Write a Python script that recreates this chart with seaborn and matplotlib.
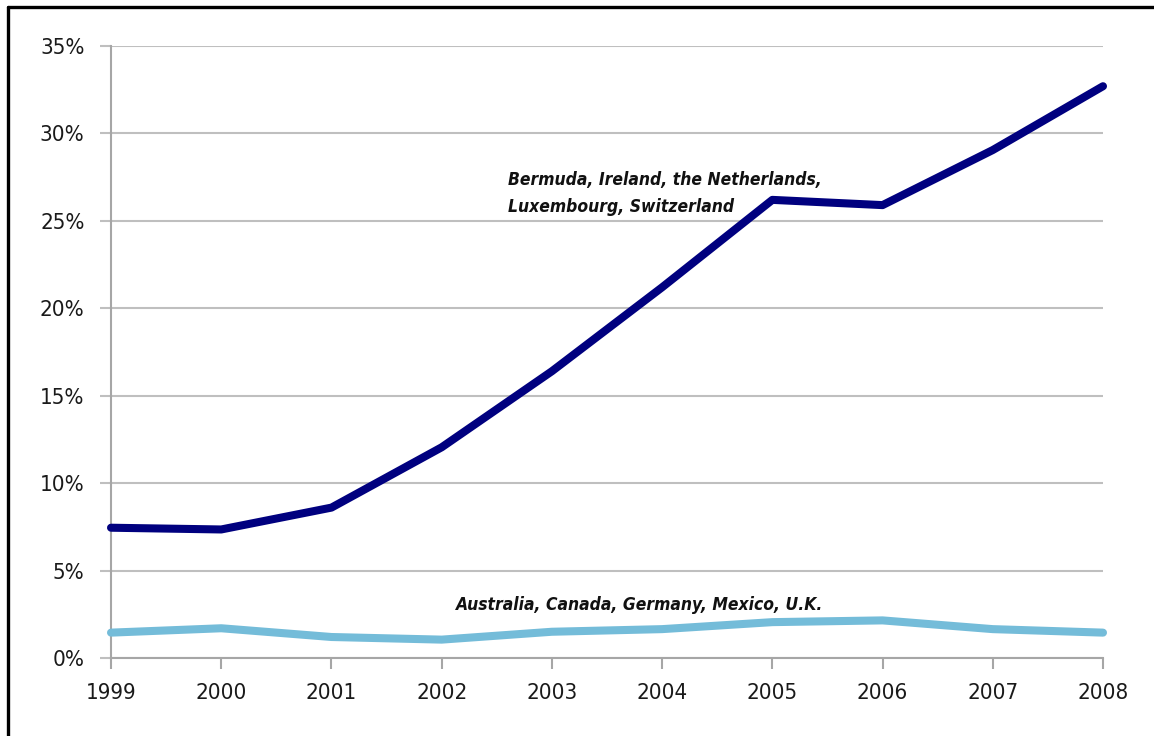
import numpy as np
import pandas as pd
import matplotlib
matplotlib.use("Agg")
import matplotlib.pyplot as plt
import seaborn as sns
from matplotlib.lines import Line2D
from matplotlib.ticker import FuncFormatter

years = [1999, 2000, 2001, 2002, 2003, 2004, 2005, 2006, 2007, 2008]
tax_havens = [7.45, 7.35, 8.6, 12.05, 16.4, 21.2, 26.2, 25.9, 29.05, 32.7]
big_five = [1.45, 1.7, 1.2, 1.05, 1.5, 1.65, 2.05, 2.15, 1.65, 1.45]
label_havens_1 = "Bermuda, Ireland, the Netherlands,"
label_havens_2 = "Luxembourg, Switzerland"
label_big = "Australia, Canada, Germany, Mexico, U.K."

df = pd.DataFrame({
    "year": years * 2,
    "share": tax_havens + big_five,
    "group": ["havens"] * len(years) + ["big"] * len(years),
})

sns.set_style("white")
plt.rcParams["font.family"] = ["DejaVu Sans"]
plt.rcParams["font.stretch"] = "condensed"

fig = plt.figure(figsize=(11.54, 7.36), dpi=100)
ax = fig.add_axes([0.0962, 0.106, 0.8596, 0.8315])

sns.lineplot(data=df, x="year", y="share", hue="group",
             palette={"havens": "#00007f", "big": "#74bcd9"},
             linewidth=5.8, legend=False, ax=ax)
for ln in ax.lines:
    ln.set_solid_capstyle("round")
    ln.set_solid_joinstyle("round")
    ln.set_clip_on(False)
    ln.set_zorder(3)

ax.set_xlim(1999, 2008)
ax.set_ylim(0, 35)
ax.set_xticks(years)
ax.set_yticks(range(0, 36, 5))
ax.yaxis.set_major_formatter(FuncFormatter(lambda v, p: f"{int(v)}%"))
ax.set_xlabel("")
ax.set_ylabel("")

ax.grid(axis="y", color="#bfbfbf", linewidth=1.5)
ax.grid(axis="x", visible=False)
for s in ["top", "right"]:
    ax.spines[s].set_visible(False)
for s in ["left", "bottom"]:
    ax.spines[s].set_color("#a6a6a6")
    ax.spines[s].set_linewidth(1.5)
ax.tick_params(axis="x", direction="out", length=8, width=1.5, color="#a6a6a6",
               labelsize=16, labelcolor="#1a1a1a", pad=10, bottom=True)
ax.tick_params(axis="y", direction="out", length=8, width=1.5, color="#bfbfbf",
               labelsize=16, labelcolor="#1a1a1a", pad=11, left=True)

txt = dict(fontsize=12.5, fontweight="bold", fontstyle="italic",
           color="#111111", ha="left", va="center")
ax.text(2002.6, 27.34, label_havens_1, **txt)
ax.text(2002.6, 25.79, label_havens_2, **txt)
ax.text(2002.12, 3.05, label_big, **txt)

# frame around the figure (only left and top visible)
fig.add_artist(Line2D([8 / 1154, 8 / 1154], [0, 1 - 7 / 736],
                      transform=fig.transFigure, color="black", linewidth=2.4))
fig.add_artist(Line2D([8 / 1154, 1], [1 - 7 / 736, 1 - 7 / 736],
                      transform=fig.transFigure, color="black", linewidth=2.4))

fig.savefig("out.png", dpi=100, facecolor="white")
